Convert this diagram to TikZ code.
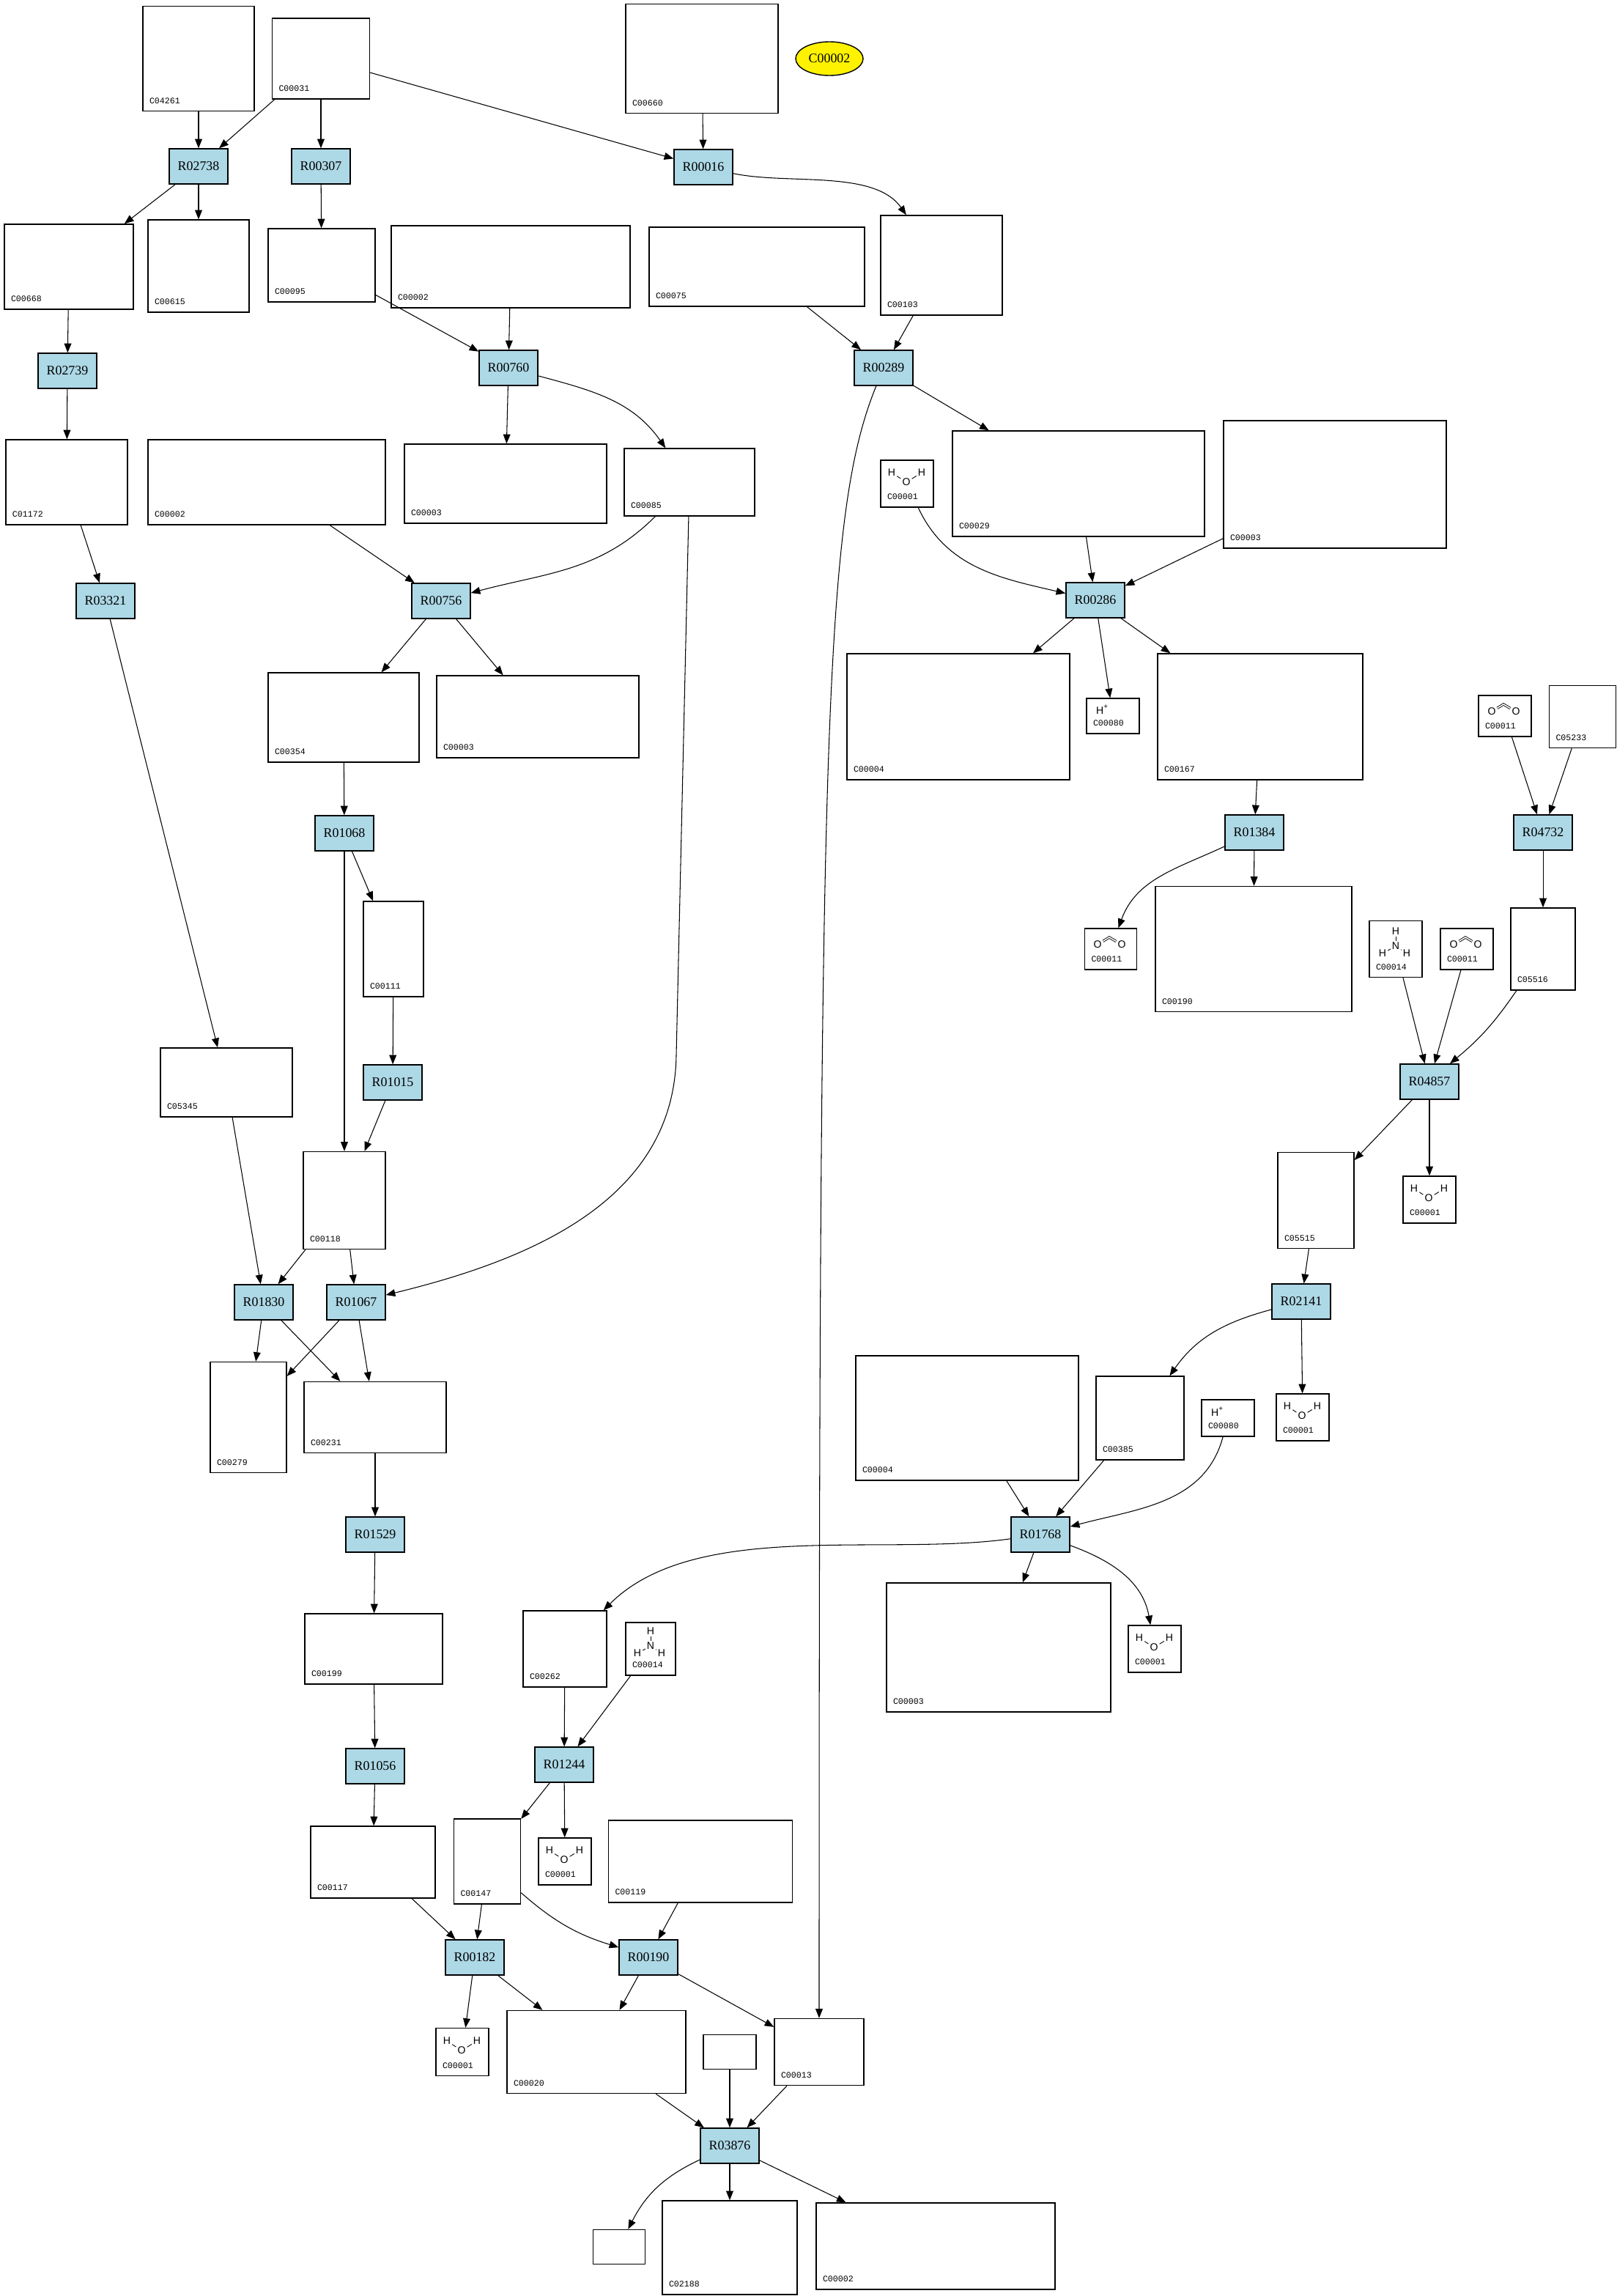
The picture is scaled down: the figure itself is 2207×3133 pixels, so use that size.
\documentclass[tikz,border=0pt]{standalone}
\usepackage{fontspec}
\usepackage{xcolor}
\usepackage{tikz}
\usetikzlibrary{arrows.meta, shapes.geometric, calc}

\newfontfamily\rxnfont{Liberation Serif}
\newfontfamily\idfont{Liberation Mono}
\newfontfamily\atomfont{Liberation Sans}
\definecolor{rxnblue}{HTML}{ADD8E6}

% compound box: name, x, y, width, height, id
\newcommand{\kcpd}[6]{%
  \node[cpd, minimum width=#4*0.01cm, minimum height=#5*0.01cm] (#1) at (#2,-#3) {};
  \node[cpdid] (#1-id) at ($(#1.south west)+(9,11)$) {#6};}
% small molecules drawn inside a box
\newcommand{\hoh}[1]{%
  \node[atom] (#1-h1) at ($(#1)+(-21,15)$) {H};
  \node[atom] (#1-o) at ($(#1)+(-1,2)$) {O};
  \node[atom] (#1-h2) at ($(#1)+(20,15)$) {H};
  \draw[bond] (#1-h1) -- (#1-o) -- (#1-h2);}
\newcommand{\nhhh}[1]{%
  \node[atom] (#1-h1) at ($(#1)+(0,24)$) {H};
  \node[atom] (#1-n) at ($(#1)+(0,4)$) {N};
  \node[atom] (#1-h2) at ($(#1)+(-18,-6)$) {H};
  \node[atom] (#1-h3) at ($(#1)+(15,-6)$) {H};
  \draw[bond] (#1-h1) -- (#1-n);
  \draw[bond] (#1-h2) -- (#1-n) -- (#1-h3);}
\newcommand{\oco}[1]{%
  \node[atom] (#1-o1) at ($(#1)+(-18,6)$) {O};
  \node[atom] (#1-o2) at ($(#1)+(15,6)$) {O};
  \coordinate (#1-c) at ($(#1)+(-2,16)$);
  \draw[bond, double, double distance=0.45pt] (#1-o1) -- (#1-c) -- (#1-o2);}
\newcommand{\hplus}[1]{%
  \node[atom] (#1-h) at ($(#1)+(-14,9)$) {H\textsuperscript{+}};}

\begin{document}
\begin{tikzpicture}[
    x=0.01cm, y=0.01cm,
    reaction/.style={draw, fill=rxnblue, minimum width=0.8cm, minimum height=0.48cm,
      inner sep=0, line width=0.4pt, font=\rxnfont\fontsize{5.1}{6}\selectfont},
    query/.style={ellipse, draw, fill=yellow, minimum width=0.92cm, minimum height=0.46cm,
      inner sep=0, line width=0.4pt, font=\rxnfont\fontsize{5.1}{6}\selectfont},
    cpd/.style={draw, inner sep=0, line width=0.4pt},
    cpdid/.style={anchor=base west, inner sep=0, font=\idfont\fontsize{3.3}{4}\selectfont},
    atom/.style={inner sep=0.4pt, font=\atomfont\fontsize{4}{5}\selectfont},
    bond/.style={line width=0.25pt},
    link/.style={-{Triangle[length=3.6pt,width=2.8pt]}, line width=0.3pt}
  ]
  \useasboundingbox (0,0) rectangle (2207,-3133);

  % reactions
  \node[reaction] (r02738) at (271,-227) {R02738};
  \node[reaction] (r00307) at (438,-227) {R00307};
  \node[reaction] (r00016) at (960,-228) {R00016};
  \node[reaction] (r02739) at (92,-506) {R02739};
  \node[reaction] (r00760) at (694,-502) {R00760};
  \node[reaction] (r00289) at (1206,-502) {R00289};
  \node[reaction] (r03321) at (144,-820) {R03321};
  \node[reaction] (r00756) at (602,-820) {R00756};
  \node[reaction] (r00286) at (1495,-819) {R00286};
  \node[reaction] (r01068) at (470,-1137) {R01068};
  \node[reaction] (r01384) at (1712,-1136) {R01384};
  \node[reaction] (r04732) at (2106,-1136) {R04732};
  \node[reaction] (r01015) at (536,-1477) {R01015};
  \node[reaction] (r04857) at (1951,-1476) {R04857};
  \node[reaction] (r01830) at (360,-1777) {R01830};
  \node[reaction] (r01067) at (486,-1777) {R01067};
  \node[reaction] (r02141) at (1776,-1776) {R02141};
  \node[reaction] (r01529) at (512,-2094) {R01529};
  \node[reaction] (r01768) at (1420,-2094) {R01768};
  \node[reaction] (r01056) at (512,-2410) {R01056};
  \node[reaction] (r01244) at (770,-2408) {R01244};
  \node[reaction] (r00182) at (648,-2671) {R00182};
  \node[reaction] (r00190) at (885,-2671) {R00190};
  \node[reaction] (r03876) at (996,-2928) {R03876};

  \node[query] (c00002a) at (1132,-80) {C00002};

  % compounds
  \kcpd{c04261}{271}{80}{152}{143}{C04261}
  \kcpd{c00031}{438}{80}{133}{110}{C00031}
  \kcpd{c00660}{958}{80}{208}{149}{C00660}
  \kcpd{c00668}{94}{364}{176}{116}{C00668}
  \kcpd{c00615}{271}{363}{138}{126}{C00615}
  \kcpd{c00095}{439}{362}{146}{100}{C00095}
  \kcpd{c00002b}{697}{364}{326}{112}{C00002}
  \kcpd{c00075}{1033}{364}{294}{108}{C00075}
  \kcpd{c00103}{1285}{362}{166}{136}{C00103}
  \kcpd{c01172}{91}{658}{166}{116}{C01172}
  \kcpd{c00002c}{364}{658}{324}{116}{C00002}
  \kcpd{c00003a}{690}{660}{276}{108}{C00003}
  \kcpd{c00085}{941}{658}{178}{92}{C00085}
  \kcpd{c00001a}{1238}{660}{72}{64}{C00001}
  \kcpd{c00029}{1472}{660}{344}{144}{C00029}
  \kcpd{c00003b}{1822}{661}{304}{174}{C00003}
  \kcpd{c00354}{469}{979}{206}{122}{C00354}
  \kcpd{c00003c}{734}{978}{276}{112}{C00003}
  \kcpd{c00004a}{1308}{978}{304}{172}{C00004}
  \kcpd{c00080a}{1519}{977}{72}{48}{C00080}
  \kcpd{c00167}{1720}{978}{280}{172}{C00167}
  \kcpd{c00011a}{2054}{977}{72}{56}{C00011}
  \kcpd{c05233}{2160}{978}{91}{85}{C05233}
  \kcpd{c00111}{537}{1295}{82}{130}{C00111}
  \kcpd{c00011b}{1516}{1295}{71}{56}{C00011}
  \kcpd{c00190}{1711}{1295}{268}{171}{C00190}
  \kcpd{c00014a}{1905}{1295}{72}{77}{C00014}
  \kcpd{c00011c}{2002}{1295}{72}{56}{C00011}
  \kcpd{c05516}{2106}{1295}{88}{112}{C05516}
  \kcpd{c05345}{309}{1477}{180}{94}{C05345}
  \kcpd{c00118}{470}{1638}{112}{133}{C00118}
  \kcpd{c05515}{1796}{1638}{104}{131}{C05515}
  \kcpd{c00001b}{1951}{1637}{72}{64}{C00001}
  \kcpd{c00279}{339}{1934}{104}{151}{C00279}
  \kcpd{c00231}{512}{1934}{194}{97}{C00231}
  \kcpd{c00004b}{1320}{1935}{304}{170}{C00004}
  \kcpd{c00385}{1556}{1935}{120}{114}{C00385}
  \kcpd{c00080b}{1676}{1935}{72}{50}{C00080}
  \kcpd{c00001c}{1778}{1934}{72}{64}{C00001}
  \kcpd{c00199}{510}{2250}{188}{96}{C00199}
  \kcpd{c00262}{771}{2250}{114}{104}{C00262}
  \kcpd{c00014b}{888}{2250}{68}{72}{C00014}
  \kcpd{c00003d}{1363}{2248}{306}{176}{C00003}
  \kcpd{c00001d}{1576}{2250}{72}{64}{C00001}
  \kcpd{c00117}{509}{2541}{170}{98}{C00117}
  \kcpd{c00147}{665}{2540}{91}{116}{C00147}
  \kcpd{c00001e}{771}{2540}{72}{64}{C00001}
  \kcpd{c00119}{956}{2540}{251}{112}{C00119}
  \kcpd{c00001f}{631}{2800}{72}{65}{C00001}
  \kcpd{c00020}{814}{2800}{244}{113}{C00020}
  \kcpd{c00013}{1118}{2800}{122}{91}{C00013}
  \kcpd{c02188}{996}{3067}{184}{128}{C02188}
  \kcpd{c00002d}{1277}{3065}{326}{118}{C00002}
  \node[cpd, minimum width=0.72cm, minimum height=0.47cm] (blanka) at (996,-2800) {};
  \node[cpd, minimum width=0.71cm, minimum height=0.47cm] (blankb) at (845,-3066) {};

  % small molecules
  \hoh{c00001a} \hoh{c00001b} \hoh{c00001c} \hoh{c00001d} \hoh{c00001e} \hoh{c00001f}
  \nhhh{c00014a} \nhhh{c00014b}
  \oco{c00011a} \oco{c00011b} \oco{c00011c}
  \hplus{c00080a} \hplus{c00080b}

  % connectors
  \draw[link] (c04261) -- (r02738);
  \draw[link] (c00031) -- (r02738);
  \draw[link] (c00031) -- (r00307);
  \draw[link] (c00031) -- (r00016);
  \draw[link] (c00660) -- (r00016);
  \draw[link] (r02738) -- (c00668);
  \draw[link] (r02738) -- (c00615);
  \draw[link] (r00307) -- (c00095);
  \draw[link] (r00016) to[out=-12,in=125,looseness=0.8] (c00103);
  \draw[link] (c00095) -- (r00760);
  \draw[link] (c00002b) -- (r00760);
  \draw[link] (c00075) -- (r00289);
  \draw[link] (c00103) -- (r00289);
  \draw[link] (c00668) -- (r02739);
  \draw[link] (r02739) -- (c01172);
  \draw[link] (r00760) -- (c00003a);
  \draw[link] (r00760) to[out=-15,in=125] (c00085);
  \draw[link] (r00289) -- (c00029);
  \draw[link] (r00289) .. controls (1125,-700) and (1118,-1000) .. (c00013);
  \draw[link] (c01172) -- (r03321);
  \draw[link] (c00002c) -- (r00756);
  \draw[link] (c00085) to[out=225,in=15] (r00756);
  \draw[link] (c00085) -- (923,-1440) .. controls (920,-1640) and (720,-1720) .. (r01067);
  \draw[link] (c00001a) to[out=-65,in=167] (r00286);
  \draw[link] (c00029) -- (r00286);
  \draw[link] (c00003b) -- (r00286);
  \draw[link] (r03321) -- (c05345);
  \draw[link] (r00756) -- (c00354);
  \draw[link] (r00756) -- (c00003c);
  \draw[link] (r00286) -- (c00004a);
  \draw[link] (r00286) -- (c00080a);
  \draw[link] (r00286) -- (c00167);
  \draw[link] (c00354) -- (r01068);
  \draw[link] (c00167) -- (r01384);
  \draw[link] (c00011a) -- (r04732);
  \draw[link] (c05233) -- (r04732);
  \draw[link] (r01068) -- (c00111);
  \draw[link] (r01068) -- (c00118);
  \draw[link] (r01384) to[out=205,in=70] (c00011b);
  \draw[link] (r01384) -- (c00190);
  \draw[link] (r04732) -- (c05516);
  \draw[link] (c00111) -- (r01015);
  \draw[link] (c00014a) -- (r04857);
  \draw[link] (c00011c) -- (r04857);
  \draw[link] (c05516) to[bend left=8] (r04857);
  \draw[link] (r01015) -- (c00118);
  \draw[link] (r04857) -- (c05515);
  \draw[link] (r04857) -- (c00001b);
  \draw[link] (c05345) -- (r01830);
  \draw[link] (c00118) -- (r01830);
  \draw[link] (c00118) -- (r01067);
  \draw[link] (c05515) -- (r02141);
  \draw[link] (r01830) -- (c00279);
  \draw[link] (r01830) -- (c00231);
  \draw[link] (r01067) -- (c00279);
  \draw[link] (r01067) -- (c00231);
  \draw[link] (r02141) to[out=195,in=55] (c00385);
  \draw[link] (r02141) -- (c00001c);
  \draw[link] (c00231) -- (r01529);
  \draw[link] (c00004b) -- (r01768);
  \draw[link] (c00385) -- (r01768);
  \draw[link] (c00080b) to[out=-105,in=15] (r01768);
  \draw[link] (r01529) -- (c00199);
  \draw[link] (r01768) to[out=188,in=45,looseness=0.8] (c00262);
  \draw[link] (r01768) -- (c00003d);
  \draw[link] (r01768) to[out=-20,in=100] (c00001d);
  \draw[link] (c00199) -- (r01056);
  \draw[link] (c00262) -- (r01244);
  \draw[link] (c00014b) -- (r01244);
  \draw[link] (r01056) -- (c00117);
  \draw[link] (r01244) -- (c00147);
  \draw[link] (r01244) -- (c00001e);
  \draw[link] (c00117) -- (r00182);
  \draw[link] (c00147) -- (r00182);
  \draw[link] (c00147) to[bend right=12] (r00190);
  \draw[link] (c00119) -- (r00190);
  \draw[link] (r00182) -- (c00001f);
  \draw[link] (r00182) -- (c00020);
  \draw[link] (r00190) -- (c00020);
  \draw[link] (r00190) -- (c00013);
  \draw[link] (c00020) -- (r03876);
  \draw[link] (blanka) -- (r03876);
  \draw[link] (c00013) -- (r03876);
  \draw[link] (r03876) to[out=205,in=63] (blankb);
  \draw[link] (r03876) -- (c02188);
  \draw[link] (r03876) -- (c00002d);
\end{tikzpicture}
\end{document}
